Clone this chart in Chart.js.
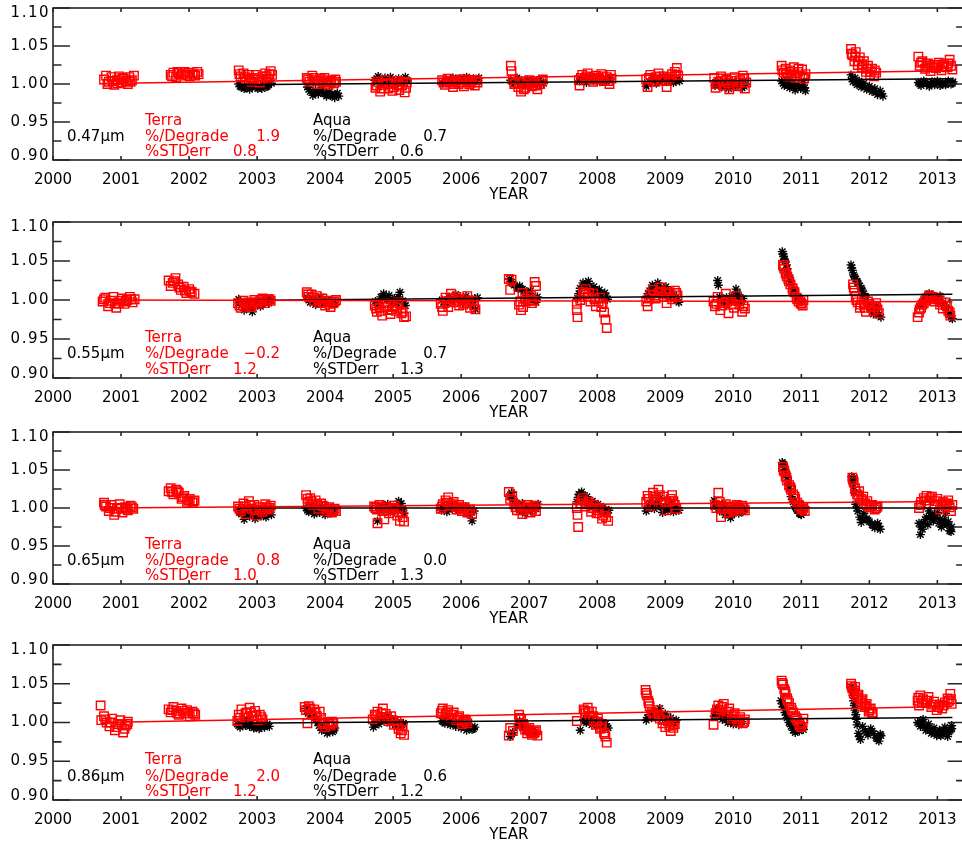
<!DOCTYPE html>
<html>
<head>
<meta charset="utf-8">
<script src="https://cdn.jsdelivr.net/npm/chart.js@4.4.1/dist/chart.umd.min.js"></script>
<style>
  html, body { margin: 0; padding: 0; background: #fff; width: 962px; height: 841px; overflow: hidden; }
  canvas { position: absolute; left: 0; }
</style>
</head>
<body>
<canvas id="c0"></canvas>
<canvas id="c1"></canvas>
<canvas id="c2"></canvas>
<canvas id="c3"></canvas>
<script>
// ---- axis ticks ----
const yearTicks = [2000, 2001, 2002, 2003, 2004, 2005, 2006, 2007, 2008, 2009, 2010, 2011, 2012, 2013];
const yTickValues = [0.90, 0.95, 1.00, 1.05, 1.10];
const yTickLabels = ['0.90', '0.95', '1.00', '1.05', '1.10'];
const xAxisTitle = 'YEAR';

// ---- per-band statistics ----
const bandNames = ['0.47\u03bcm', '0.55\u03bcm', '0.65\u03bcm', '0.86\u03bcm'];
const terraDegrade = ['1.9', '\u22120.2', '0.8', '2.0'];
const terraStdErr = ['0.8', '1.2', '1.0', '1.2'];
const aquaDegrade = ['0.7', '0.7', '0.0', '0.6'];
const aquaStdErr = ['0.6', '1.3', '1.3', '1.2'];

// ---- 0.47 um: normalized ratios [decimal year, ratio] ----
const terra047 = [
  [2000.75,1.006],[2000.78,1.011],[2000.82,1.003],[2000.86,1.009],[2000.90,0.999],[2000.94,1.005],[2000.97,1.010],[2001.00,1.002],[2001.04,1.007],[2001.08,1.004],[2001.12,1.009],[2001.16,1.005],[2001.19,1.011],
  [2000.80,1.000],[2000.88,1.004],[2000.95,1.001],[2001.02,1.008],[2001.10,1.000],[2001.14,1.003],
  [2001.73,1.012],[2001.77,1.015],[2001.81,1.009],[2001.85,1.014],[2001.89,1.011],[2001.93,1.016],[2001.97,1.012],[2002.01,1.010],[2002.05,1.014],[2002.09,1.011],[2002.14,1.013],
  [2001.75,1.010],[2001.83,1.016],[2001.91,1.013],[2001.99,1.015],[2002.07,1.012],[2002.12,1.016],
  [2002.73,1.018],[2002.76,1.010],[2002.80,1.014],[2002.84,1.005],[2002.88,1.012],[2002.92,1.003],[2002.96,1.008],[2003.00,1.006],[2003.04,1.002],[2003.08,1.010],[2003.12,1.014],[2003.16,1.007],[2003.20,1.017],[2003.22,1.012],
  [2002.74,1.013],[2002.82,1.009],[2002.90,1.007],[2002.98,1.012],[2003.06,1.005],[2003.14,1.010],[2003.18,1.013],
  [2003.73,1.008],[2003.77,1.003],[2003.81,1.011],[2003.85,1.005],[2003.89,1.000],[2003.93,1.007],[2003.97,1.002],[2004.01,1.005],[2004.05,0.999],[2004.09,1.004],[2004.13,1.001],[2004.16,1.003],
  [2003.75,1.006],[2003.83,1.008],[2003.91,1.004],[2003.99,1.008],[2004.07,1.002],[2004.15,1.006],
  [2004.74,0.995],[2004.77,1.003],[2004.81,0.990],[2004.85,0.999],[2004.89,1.005],[2004.93,0.994],[2004.97,1.000],[2005.01,0.996],[2005.05,1.004],[2005.09,0.992],[2005.13,0.998],[2005.17,0.989],[2005.20,1.002],
  [2004.76,0.998],[2004.83,0.994],[2004.91,1.001],[2004.99,0.991],[2005.07,0.999],[2005.15,1.003],[2005.19,0.995],
  [2005.72,1.005],[2005.76,0.999],[2005.80,1.007],[2005.84,1.002],[2005.88,0.996],[2005.92,1.004],[2005.96,1.000],[2006.00,1.006],[2006.04,0.997],[2006.08,1.003],[2006.12,1.000],[2006.16,1.005],[2006.20,0.998],[2006.24,1.002],
  [2005.74,1.002],[2005.82,1.004],[2005.90,1.000],[2005.98,1.002],[2006.06,1.006],[2006.14,1.002],[2006.22,1.005],
  [2006.73,1.024],[2006.74,1.017],[2006.76,1.006],[2006.80,1.002],[2006.84,0.996],[2006.88,0.990],[2006.92,0.993],[2006.96,0.999],[2007.00,1.005],[2007.04,0.997],[2007.08,1.003],[2007.12,0.993],[2007.16,1.000],[2007.20,1.006],
  [2006.78,1.000],[2006.86,1.001],[2006.94,0.995],[2007.02,1.001],[2007.10,0.998],[2007.18,1.004],
  [2007.73,1.005],[2007.74,0.998],[2007.78,1.012],[2007.82,1.007],[2007.86,1.014],[2007.90,1.009],[2007.94,1.003],[2007.98,1.011],[2008.02,1.006],[2008.06,1.013],[2008.10,1.004],[2008.14,1.009],[2008.18,1.000],[2008.21,1.007],
  [2007.76,1.008],[2007.84,1.010],[2007.92,1.006],[2008.00,1.008],[2008.08,1.010],[2008.16,1.004],[2008.20,1.012],
  [2008.72,1.006],[2008.74,0.996],[2008.78,1.012],[2008.82,1.003],[2008.86,1.009],[2008.90,1.014],[2008.94,1.005],[2008.98,1.010],[2009.02,0.996],[2009.06,1.007],[2009.10,1.013],[2009.14,1.016],[2009.17,1.021],[2009.19,1.011],
  [2008.76,1.008],[2008.84,1.006],[2008.92,1.010],[2009.00,1.004],[2009.08,1.009],[2009.16,1.012],
  [2009.72,1.008],[2009.74,0.995],[2009.78,1.003],[2009.82,1.010],[2009.86,0.998],[2009.90,1.006],[2009.94,0.993],[2009.98,1.004],[2010.02,1.009],[2010.06,0.997],[2010.10,1.005],[2010.14,1.011],[2010.17,0.994],[2010.19,1.002],
  [2009.76,1.000],[2009.84,1.004],[2009.92,1.001],[2010.00,0.998],[2010.08,1.002],[2010.16,1.007],
  [2010.71,1.024],[2010.74,1.015],[2010.77,1.020],[2010.80,1.010],[2010.83,1.018],[2010.86,1.012],[2010.89,1.022],[2010.92,1.008],[2010.95,1.016],[2010.98,1.011],[2011.01,1.019],[2011.04,1.007],[2011.06,1.013],
  [2010.72,1.018],[2010.78,1.013],[2010.84,1.016],[2010.90,1.014],[2010.96,1.020],[2011.02,1.010],
  [2011.73,1.046],[2011.75,1.038],[2011.78,1.030],[2011.80,1.042],[2011.83,1.025],[2011.86,1.035],[2011.89,1.022],[2011.92,1.030],[2011.95,1.016],[2011.98,1.024],[2012.01,1.012],[2012.04,1.020],[2012.07,1.010],[2012.10,1.015],
  [2011.74,1.040],[2011.79,1.036],[2011.84,1.030],[2011.90,1.026],[2011.96,1.020],[2012.02,1.016],[2012.08,1.018],
  [2012.72,1.036],[2012.74,1.024],[2012.78,1.030],[2012.82,1.020],[2012.86,1.027],[2012.90,1.017],[2012.94,1.025],[2012.98,1.021],[2013.02,1.028],[2013.06,1.018],[2013.10,1.026],[2013.14,1.022],[2013.18,1.032],[2013.22,1.019],
  [2012.76,1.028],[2012.84,1.024],[2012.92,1.022],[2013.00,1.025],[2013.08,1.023],[2013.16,1.027],[2013.20,1.024]
];
const aqua047 = [
  [2002.73,1.000],[2002.77,0.996],[2002.81,0.994],[2002.85,0.998],[2002.89,0.993],[2002.93,0.996],[2002.97,0.999],[2003.01,0.994],[2003.05,0.997],[2003.09,1.000],[2003.13,0.996],[2003.17,0.999],[2003.21,1.001],
  [2002.75,0.997],[2002.83,0.995],[2002.91,0.998],[2002.99,0.996],[2003.07,0.994],[2003.15,0.997],
  [2003.74,0.996],[2003.78,0.990],[2003.82,0.985],[2003.86,0.992],[2003.90,0.987],[2003.94,0.993],[2003.98,0.988],[2004.02,0.984],[2004.06,0.990],[2004.10,0.986],[2004.14,0.982],[2004.18,0.988],[2004.20,0.984],
  [2003.76,0.993],[2003.84,0.988],[2003.92,0.990],[2004.00,0.987],[2004.08,0.985],[2004.16,0.986],
  [2004.73,1.005],[2004.78,1.010],[2004.83,1.000],[2004.88,1.008],[2004.93,1.003],[2004.98,1.006],[2005.03,0.998],[2005.08,1.007],[2005.13,1.002],[2005.18,1.009],[2005.21,1.004],
  [2004.76,1.007],[2004.86,1.004],[2004.96,1.009],[2005.06,1.003],[2005.16,1.006],
  [2005.73,1.001],[2005.78,1.006],[2005.83,1.003],[2005.88,1.008],[2005.93,1.002],[2005.98,1.007],[2006.03,1.004],[2006.08,1.009],[2006.13,1.003],[2006.18,1.007],[2006.23,1.005],[2006.26,1.008],
  [2005.76,1.004],[2005.86,1.005],[2005.96,1.004],[2006.06,1.006],[2006.16,1.005],
  [2006.73,1.005],[2006.77,1.000],[2006.82,1.008],[2006.87,1.002],[2006.92,0.999],[2006.97,1.005],[2007.02,1.001],[2007.07,1.004],[2007.12,0.999],[2007.17,1.003],[2007.21,1.001],
  [2006.75,1.003],[2006.85,1.006],[2006.95,1.002],[2007.05,1.003],[2007.15,1.005],
  [2007.74,1.004],[2007.79,1.008],[2007.84,1.002],[2007.89,1.010],[2007.94,1.005],[2007.99,1.009],[2008.04,1.003],[2008.09,1.007],[2008.14,1.004],[2008.19,1.008],
  [2007.77,1.006],[2007.87,1.004],[2007.97,1.006],[2008.07,1.005],[2008.17,1.006],
  [2008.72,0.997],[2008.77,1.003],[2008.82,1.008],[2008.87,1.001],[2008.92,1.006],[2008.97,1.010],[2009.02,1.003],[2009.07,1.007],[2009.12,1.002],[2009.17,1.006],[2009.21,1.004],
  [2008.75,1.000],[2008.85,1.004],[2008.95,1.005],[2009.05,1.005],[2009.15,1.004],
  [2009.73,0.998],[2009.78,1.004],[2009.83,0.996],[2009.88,1.001],[2009.93,0.994],[2009.98,1.003],[2010.03,0.997],[2010.08,1.002],[2010.13,0.995],[2010.18,1.000],
  [2009.76,1.001],[2009.86,0.999],[2009.96,0.998],[2010.06,0.999],[2010.16,0.997],
  [2010.71,1.004],[2010.75,0.998],[2010.79,1.006],[2010.83,0.995],[2010.87,1.001],[2010.91,0.992],[2010.95,0.999],[2010.99,0.994],[2011.03,1.002],[2011.06,0.991],
  [2010.73,1.001],[2010.81,0.998],[2010.89,0.996],[2010.97,0.997],[2011.05,0.995],
  [2011.73,1.012],[2011.76,1.003],[2011.79,1.008],[2011.82,0.999],[2011.85,1.004],[2011.88,0.996],[2011.92,1.001],[2011.96,0.993],[2012.00,0.997],[2012.04,0.990],[2012.08,0.994],[2012.12,0.986],[2012.16,0.991],[2012.20,0.984],
  [2011.75,1.007],[2011.81,1.002],[2011.87,1.000],[2011.94,0.996],[2012.02,0.993],[2012.10,0.989],[2012.18,0.987],
  [2012.72,1.002],[2012.76,0.998],[2012.80,1.004],[2012.84,1.000],[2012.88,0.997],[2012.92,1.003],[2012.96,0.999],[2013.00,1.004],[2013.04,0.998],[2013.08,1.002],[2013.12,0.999],[2013.16,1.004],[2013.20,1.000],[2013.23,1.003],
  [2012.74,1.000],[2012.82,1.002],[2012.90,1.000],[2012.98,1.001],[2013.06,1.000],[2013.14,1.001],[2013.22,1.001]
];

// ---- 0.55 um ----
const terra055 = [
  [2000.73,0.998],[2000.77,1.003],[2000.81,0.992],[2000.85,0.999],[2000.89,1.004],[2000.93,0.990],[2000.97,0.996],[2001.01,1.002],[2001.05,0.995],[2001.09,1.000],[2001.13,1.004],[2001.17,0.997],[2001.20,1.001],
  [2000.75,1.001],[2000.83,0.996],[2000.91,0.995],[2000.99,0.999],[2001.07,0.998],[2001.15,1.001],
  [2001.70,1.025],[2001.73,1.018],[2001.76,1.022],[2001.80,1.028],[2001.84,1.020],[2001.88,1.013],[2001.92,1.017],[2001.96,1.009],[2002.00,1.014],[2002.04,1.010],[2002.08,1.008],
  [2001.78,1.024],[2001.86,1.016],[2001.94,1.012],[2002.02,1.011],
  [2002.72,0.996],[2002.76,0.990],[2002.80,0.999],[2002.84,0.993],[2002.88,0.997],[2002.92,0.991],[2002.96,1.000],[2003.00,0.995],[2003.04,0.998],[2003.08,1.002],[2003.12,0.996],[2003.16,1.001],[2003.20,0.999],
  [2002.74,0.993],[2002.82,0.996],[2002.90,0.994],[2002.98,0.997],[2003.06,1.000],[2003.14,0.999],[2003.18,1.001],
  [2003.73,1.010],[2003.76,1.004],[2003.80,1.007],[2003.84,0.999],[2003.88,1.005],[2003.92,0.996],[2003.96,1.002],[2004.00,0.993],[2004.04,0.999],[2004.08,0.991],[2004.12,0.996],[2004.16,1.000],
  [2003.75,1.007],[2003.82,1.003],[2003.90,1.001],[2003.98,0.997],[2004.06,0.995],[2004.14,0.998],
  [2004.73,0.993],[2004.76,0.985],[2004.80,0.990],[2004.84,0.980],[2004.88,0.996],[2004.92,0.987],[2004.96,0.982],[2005.00,0.992],[2005.04,0.986],[2005.08,0.997],[2005.12,0.983],[2005.16,0.978],[2005.19,0.979],
  [2004.75,0.989],[2004.82,0.986],[2004.90,0.991],[2004.98,0.988],[2005.06,0.990],[2005.14,0.985],
  [2005.70,0.995],[2005.73,0.986],[2005.77,1.003],[2005.81,0.991],[2005.85,1.008],[2005.89,0.997],[2005.93,1.004],[2005.97,0.993],[2006.01,1.001],[2006.05,0.996],[2006.09,1.005],[2006.13,0.990],[2006.17,0.999],[2006.21,0.988],
  [2005.72,0.991],[2005.79,0.998],[2005.87,1.002],[2005.95,0.999],[2006.03,0.994],[2006.11,0.998],[2006.19,0.993],
  [2006.70,1.027],[2006.74,1.026],[2006.72,1.013],[2006.85,0.994],[2006.88,0.987],[2006.91,0.991],[2006.90,1.009],[2006.94,1.002],[2006.98,1.005],[2007.01,1.000],[2007.04,0.996],[2007.08,1.023],[2007.10,1.018],
  [2006.87,0.998],[2006.95,0.998],[2007.03,1.005],[2007.07,0.999],
  [2007.70,0.995],[2007.70,0.987],[2007.71,0.978],[2007.75,1.000],[2007.79,1.010],[2007.83,1.014],[2007.86,1.004],[2007.90,0.998],[2007.94,1.008],[2007.98,0.992],[2008.02,0.998],[2008.06,0.991],[2008.10,0.984],[2008.12,0.975],[2008.14,0.964],
  [2007.81,1.007],[2007.88,1.009],[2007.96,1.001],[2008.04,1.003],[2008.08,0.996],
  [2008.72,0.998],[2008.74,0.992],[2008.78,1.007],[2008.82,1.013],[2008.86,1.002],[2008.90,1.009],[2008.94,1.016],[2008.98,1.004],[2009.02,0.996],[2009.06,1.010],[2009.10,1.001],[2009.14,1.012],[2009.18,1.006],
  [2008.76,1.002],[2008.84,1.006],[2008.92,1.011],[2009.00,1.008],[2009.08,1.004],[2009.16,1.009],
  [2009.71,0.998],[2009.73,0.992],[2009.77,1.004],[2009.81,0.987],[2009.85,0.996],[2009.89,1.008],[2009.93,0.983],[2009.97,0.999],[2010.01,0.990],[2010.05,1.005],[2010.09,0.994],[2010.13,0.985],[2010.17,0.989],
  [2009.75,0.995],[2009.83,0.993],[2009.91,0.998],[2009.99,0.995],[2010.07,0.999],[2010.15,0.992],
  [2010.73,1.045],[2010.75,1.040],[2010.77,1.035],[2010.79,1.030],[2010.81,1.027],[2010.84,1.020],[2010.87,1.015],[2010.90,1.010],[2010.93,1.003],[2010.96,0.998],[2010.99,0.996],[2011.02,0.993],[2011.03,1.000],
  [2010.74,1.043],[2010.78,1.033],[2010.82,1.024],[2010.88,1.012],[2010.94,1.001],[2011.00,0.995],
  [2011.76,1.020],[2011.78,1.012],[2011.80,1.004],[2011.83,0.997],[2011.86,0.990],[2011.89,1.001],[2011.92,0.994],[2011.95,0.985],[2011.98,0.998],[2012.02,0.992],[2012.06,0.986],[2012.10,0.996],[2012.14,0.983],
  [2011.77,1.016],[2011.81,1.000],[2011.87,0.994],[2011.93,0.990],[2012.00,0.995],[2012.08,0.991],[2012.12,0.988],
  [2012.71,0.978],[2012.73,0.984],[2012.76,0.990],[2012.80,0.996],[2012.84,1.002],[2012.88,1.006],[2012.92,1.004],[2012.96,0.998],[2013.00,1.003],[2013.04,0.994],[2013.08,0.989],[2013.12,0.997],[2013.16,0.986],[2013.19,0.980],
  [2012.74,0.988],[2012.78,0.994],[2012.82,0.999],[2012.90,1.003],[2012.98,1.001],[2013.06,0.997],[2013.14,0.992],[2013.18,0.984]
];
const aqua055 = [
  [2002.73,1.001],[2002.77,0.993],[2002.81,0.987],[2002.85,0.996],[2002.89,0.990],[2002.93,0.985],[2002.97,0.994],[2003.01,0.999],[2003.05,0.992],[2003.09,0.997],[2003.13,1.002],[2003.17,0.996],[2003.21,1.000],
  [2002.75,0.997],[2002.83,0.991],[2002.91,0.993],[2002.99,0.996],[2003.07,0.995],[2003.15,0.999],
  [2003.74,1.003],[2003.78,0.997],[2003.82,1.001],[2003.86,0.994],[2003.90,0.999],[2003.94,1.004],[2003.98,0.996],[2004.02,1.000],[2004.06,0.995],[2004.10,0.998],[2004.14,0.994],
  [2003.76,1.000],[2003.84,0.998],[2003.92,1.001],[2004.00,0.997],[2004.08,0.996],
  [2004.74,0.998],[2004.78,0.993],[2004.82,1.004],[2004.86,1.008],[2004.90,1.000],[2004.94,1.006],[2004.98,0.996],[2005.02,1.002],[2005.06,0.995],[2005.10,1.010],[2005.14,0.999],[2005.18,0.993],
  [2004.76,0.996],[2004.84,1.002],[2004.92,1.003],[2005.00,0.998],[2005.08,1.004],[2005.16,0.996],
  [2005.72,1.000],[2005.77,0.994],[2005.82,1.004],[2005.87,0.998],[2005.92,1.007],[2005.97,1.002],[2006.02,0.996],[2006.07,1.005],[2006.12,1.000],[2006.17,0.993],[2006.21,0.988],[2006.24,1.003],
  [2005.74,0.997],[2005.84,1.001],[2005.94,1.004],[2006.04,1.000],[2006.14,0.997],[2006.20,1.002],
  [2006.71,1.027],[2006.74,1.023],[2006.78,1.019],[2006.82,1.016],[2006.86,1.018],[2006.90,1.014],[2006.94,1.010],[2006.98,1.006],[2007.02,1.012],[2007.06,1.001],[2007.10,0.997],[2007.12,1.004],
  [2006.76,1.021],[2006.84,1.015],[2006.92,1.012],[2007.00,1.008],[2007.08,1.000],
  [2007.71,1.002],[2007.75,1.015],[2007.79,1.022],[2007.83,1.018],[2007.87,1.024],[2007.91,1.012],[2007.95,1.017],[2007.99,1.008],[2008.03,1.013],[2008.07,1.004],[2008.11,1.009],[2008.15,1.001],
  [2007.73,1.008],[2007.81,1.020],[2007.89,1.018],[2007.97,1.013],[2008.05,1.008],[2008.13,1.005],
  [2008.73,1.005],[2008.77,1.012],[2008.81,1.019],[2008.85,1.010],[2008.89,1.022],[2008.93,1.014],[2008.97,1.008],[2009.01,1.017],[2009.05,1.003],[2009.09,1.011],[2009.13,1.006],[2009.17,1.000],[2009.20,0.997],
  [2008.75,1.008],[2008.83,1.015],[2008.91,1.018],[2008.99,1.012],[2009.07,1.007],[2009.15,1.003],
  [2009.77,1.025],[2009.78,1.019],[2009.82,1.001],[2009.86,0.996],[2009.90,1.003],[2009.94,0.998],[2009.98,1.005],[2010.02,1.000],[2010.04,1.014],[2010.06,1.009],[2010.10,0.997],[2010.14,1.002],
  [2009.80,1.004],[2009.88,1.000],[2009.96,1.002],[2010.08,1.004],[2010.12,0.999],
  [2010.72,1.062],[2010.74,1.056],[2010.76,1.050],[2010.78,1.045],[2010.80,1.035],[2010.83,1.028],[2010.86,1.020],[2010.89,1.014],[2010.92,1.008],[2010.95,1.004],[2010.98,1.001],[2011.01,0.999],
  [2010.73,1.059],[2010.75,1.052],[2010.79,1.040],[2010.84,1.024],[2010.90,1.011],[2010.96,1.003],
  [2011.73,1.045],[2011.75,1.038],[2011.77,1.032],[2011.80,1.027],[2011.83,1.022],[2011.86,1.018],[2011.89,1.013],[2011.92,1.008],[2011.95,1.003],[2011.98,0.995],[2012.02,0.988],[2012.06,0.982],[2012.10,0.992],[2012.14,0.980],[2012.17,0.978],
  [2011.74,1.041],[2011.78,1.030],[2011.82,1.024],[2011.88,1.015],[2011.94,1.005],[2012.00,0.992],[2012.08,0.986],[2012.12,0.984],
  [2012.74,0.992],[2012.79,0.998],[2012.84,1.004],[2012.88,1.008],[2012.92,1.006],[2012.96,1.002],[2013.00,0.999],[2013.04,1.005],[2013.08,0.995],[2013.12,0.990],[2013.16,0.984],[2013.20,0.978],[2013.22,0.976],
  [2012.76,0.995],[2012.82,1.002],[2012.86,1.006],[2012.94,1.005],[2013.02,1.001],[2013.10,0.992],[2013.18,0.981]
];

// ---- 0.65 um ----
const terra065 = [
  [2000.75,1.007],[2000.78,1.002],[2000.82,0.996],[2000.86,1.004],[2000.90,0.991],[2000.94,0.999],[2000.98,1.005],[2001.02,0.994],[2001.06,1.001],[2001.10,0.997],[2001.14,1.003],[2001.18,0.999],
  [2000.76,1.004],[2000.84,1.000],[2000.92,0.995],[2001.00,1.000],[2001.08,0.999],[2001.16,1.001],
  [2001.70,1.022],[2001.73,1.026],[2001.77,1.018],[2001.81,1.024],[2001.85,1.020],[2001.89,1.012],[2001.93,1.016],[2001.97,1.008],[2002.01,1.012],[2002.05,1.007],[2002.08,1.010],
  [2001.75,1.021],[2001.83,1.022],[2001.91,1.014],[2001.99,1.010],[2002.07,1.009],
  [2002.72,1.002],[2002.76,0.996],[2002.80,1.006],[2002.84,0.992],[2002.88,1.009],[2002.92,0.999],[2002.96,1.004],[2003.00,0.990],[2003.04,1.001],[2003.08,0.995],[2003.12,1.005],[2003.16,0.998],[2003.20,1.003],
  [2002.74,0.999],[2002.82,1.002],[2002.90,1.004],[2002.98,0.997],[2003.06,0.998],[2003.14,1.001],[2003.18,1.000],
  [2003.72,1.017],[2003.75,1.008],[2003.78,1.013],[2003.82,1.004],[2003.86,1.010],[2003.90,0.999],[2003.94,1.006],[2003.98,1.002],[2004.02,0.996],[2004.06,1.001],[2004.10,0.994],[2004.14,0.999],[2004.16,0.996],
  [2003.74,1.012],[2003.80,1.009],[2003.88,1.005],[2003.96,1.003],[2004.04,0.999],[2004.12,0.997],
  [2004.72,1.002],[2004.76,0.998],[2004.77,0.980],[2004.80,1.004],[2004.84,0.996],[2004.87,0.985],[2004.90,1.001],[2004.94,0.993],[2004.98,0.999],[2005.02,1.003],[2005.06,0.990],[2005.10,0.983],[2005.13,0.994],[2005.16,0.982],
  [2004.74,1.000],[2004.82,1.001],[2004.92,0.997],[2005.00,1.000],[2005.08,0.995],[2005.14,0.988],
  [2005.70,0.999],[2005.73,1.005],[2005.77,1.010],[2005.81,1.014],[2005.85,1.003],[2005.89,1.008],[2005.93,0.998],[2005.97,1.004],[2006.01,0.996],[2006.05,1.001],[2006.09,0.994],[2006.13,0.998],[2006.16,0.992],
  [2005.72,1.002],[2005.79,1.007],[2005.87,1.005],[2005.95,1.001],[2006.03,0.999],[2006.11,0.997],
  [2006.70,1.021],[2006.72,1.012],[2006.75,1.016],[2006.78,1.005],[2006.82,0.997],[2006.86,1.003],[2006.90,0.992],[2006.94,0.999],[2006.98,1.004],[2007.02,0.994],[2007.06,1.001],[2007.10,0.996],
  [2006.80,1.001],[2006.88,0.997],[2006.96,1.001],[2007.04,0.998],[2007.08,1.003],
  [2007.70,1.000],[2007.71,0.991],[2007.72,0.975],[2007.75,1.006],[2007.79,1.013],[2007.83,1.002],[2007.87,1.008],[2007.91,0.995],[2007.95,1.004],[2007.99,0.993],[2008.03,1.000],[2008.07,0.986],[2008.11,0.995],[2008.16,0.983],
  [2007.77,1.010],[2007.85,1.005],[2007.93,1.000],[2008.01,0.997],[2008.09,0.990],[2008.13,0.988],
  [2008.72,1.008],[2008.74,1.016],[2008.78,1.003],[2008.82,1.020],[2008.86,1.011],[2008.90,1.024],[2008.94,1.006],[2008.98,1.015],[2009.02,0.997],[2009.06,1.009],[2009.10,1.017],[2009.14,1.004],[2009.16,0.999],
  [2008.76,1.012],[2008.84,1.015],[2008.92,1.017],[2009.00,1.008],[2009.08,1.012],[2009.12,1.009],
  [2009.73,1.004],[2009.78,1.020],[2009.80,1.008],[2009.82,0.988],[2009.85,0.999],[2009.89,1.005],[2009.93,0.994],[2009.97,1.002],[2010.01,0.996],[2010.05,1.004],[2010.09,0.999],[2010.13,1.003],[2010.17,0.997],
  [2009.75,1.000],[2009.83,1.002],[2009.91,1.000],[2009.99,0.998],[2010.07,1.001],[2010.15,1.000],
  [2010.73,1.054],[2010.75,1.048],[2010.77,1.042],[2010.79,1.036],[2010.82,1.030],[2010.85,1.024],[2010.88,1.018],[2010.91,1.012],[2010.94,1.007],[2010.97,1.003],[2011.00,0.998],[2011.03,1.001],[2011.05,0.996],
  [2010.74,1.050],[2010.78,1.040],[2010.84,1.027],[2010.90,1.015],[2010.96,1.004],[2011.02,0.999],
  [2011.75,1.040],[2011.77,1.034],[2011.79,1.026],[2011.82,1.018],[2011.85,1.022],[2011.88,1.012],[2011.91,1.015],[2011.94,1.006],[2011.97,1.009],[2012.00,1.001],[2012.04,1.004],[2012.08,0.998],[2012.12,1.002],
  [2011.76,1.037],[2011.80,1.022],[2011.84,1.016],[2011.90,1.010],[2011.96,1.004],[2012.02,1.003],[2012.10,1.000],
  [2012.73,1.000],[2012.76,1.008],[2012.80,1.013],[2012.84,1.016],[2012.88,1.010],[2012.92,1.015],[2012.96,1.005],[2013.00,1.012],[2013.04,0.998],[2013.08,1.008],[2013.12,1.002],[2013.16,1.010],[2013.20,0.996],[2013.22,1.004],
  [2012.75,1.004],[2012.82,1.010],[2012.90,1.013],[2012.98,1.009],[2013.06,1.004],[2013.14,1.006],[2013.18,1.001]
];
const aqua065 = [
  [2002.73,0.998],[2002.77,0.992],[2002.81,0.985],[2002.85,0.995],[2002.89,0.989],[2002.93,0.999],[2002.97,0.986],[2003.01,0.993],[2003.05,0.990],[2003.09,0.996],[2003.13,0.988],[2003.17,0.994],[2003.21,0.991],
  [2002.75,0.995],[2002.83,0.990],[2002.91,0.993],[2002.99,0.990],[2003.07,0.993],[2003.15,0.992],
  [2003.72,1.000],[2003.76,0.995],[2003.80,1.003],[2003.84,0.992],[2003.88,0.998],[2003.92,0.994],[2003.96,1.001],[2004.00,0.991],[2004.04,0.996],[2004.08,0.993],[2004.12,0.998],
  [2003.74,0.997],[2003.82,0.996],[2003.90,0.996],[2003.98,0.995],[2004.06,0.994],[2004.10,0.996],
  [2004.77,0.983],[2004.80,0.997],[2004.84,1.003],[2004.88,0.999],[2004.92,1.005],[2004.96,0.995],[2005.00,1.001],[2005.04,0.997],[2005.08,1.009],[2005.12,1.006],[2005.16,0.993],
  [2004.82,1.000],[2004.90,1.002],[2004.98,0.999],[2005.06,1.002],[2005.14,0.998],
  [2005.71,0.997],[2005.75,1.002],[2005.79,0.995],[2005.83,1.004],[2005.87,0.999],[2005.91,1.003],[2005.95,0.996],[2005.99,1.001],[2006.03,0.997],[2006.07,1.002],[2006.11,0.994],[2006.16,0.983],[2006.19,0.996],
  [2005.73,1.000],[2005.81,0.999],[2005.89,1.001],[2005.97,0.999],[2006.05,0.999],[2006.13,0.991],
  [2006.71,1.015],[2006.74,1.020],[2006.78,1.009],[2006.82,1.004],[2006.86,0.998],[2006.90,1.006],[2006.94,0.993],[2006.98,1.001],[2007.02,0.996],[2007.06,1.003],[2007.10,0.999],[2007.13,1.005],
  [2006.76,1.012],[2006.84,1.001],[2006.92,0.997],[2007.00,0.998],[2007.08,1.001],
  [2007.70,1.008],[2007.73,1.018],[2007.77,1.021],[2007.81,1.010],[2007.85,1.015],[2007.89,1.003],[2007.93,1.009],[2007.97,0.998],[2008.01,1.005],[2008.05,0.995],[2008.09,1.001],[2008.13,0.993],[2008.17,0.997],
  [2007.72,1.014],[2007.79,1.016],[2007.87,1.008],[2007.95,1.003],[2008.03,1.000],[2008.11,0.996],
  [2008.72,0.996],[2008.76,1.003],[2008.80,1.010],[2008.84,0.999],[2008.88,1.006],[2008.92,1.013],[2008.96,0.994],[2009.00,1.002],[2009.04,0.997],[2009.08,1.008],[2009.12,0.995],[2009.16,1.001],[2009.20,0.997],
  [2008.74,1.000],[2008.82,1.005],[2008.90,1.003],[2008.98,0.998],[2009.06,1.001],[2009.14,0.998],
  [2009.72,1.010],[2009.76,1.002],[2009.80,0.996],[2009.84,1.005],[2009.88,0.991],[2009.92,0.999],[2009.96,0.987],[2010.00,0.996],[2010.04,1.003],[2010.08,0.993],[2010.12,1.000],[2010.16,0.997],
  [2009.74,1.006],[2009.82,1.000],[2009.90,0.995],[2009.98,0.992],[2010.06,0.998],[2010.14,0.995],
  [2010.72,1.060],[2010.74,1.057],[2010.76,1.050],[2010.79,1.040],[2010.82,1.025],[2010.85,1.015],[2010.88,1.008],[2010.91,1.002],[2010.94,0.997],[2010.97,0.993],[2011.00,0.991],[2011.03,0.995],
  [2010.73,1.058],[2010.75,1.054],[2010.78,1.045],[2010.81,1.032],[2010.87,1.011],[2010.93,0.999],[2010.99,0.992],
  [2011.74,1.041],[2011.76,1.036],[2011.78,1.020],[2011.80,1.005],[2011.83,0.996],[2011.86,0.988],[2011.88,0.981],[2011.92,0.993],[2011.96,0.986],[2012.00,0.982],[2012.04,0.978],[2012.08,0.974],[2012.12,0.980],[2012.16,0.972],
  [2011.75,1.038],[2011.77,1.028],[2011.82,1.000],[2011.90,0.985],[2011.98,0.984],[2012.06,0.977],[2012.14,0.976],
  [2012.73,0.980],[2012.75,0.965],[2012.78,0.972],[2012.82,0.985],[2012.86,0.978],[2012.90,0.990],[2012.94,0.983],[2012.98,0.988],[2013.02,0.980],[2013.06,0.975],[2013.10,0.984],[2013.14,0.978],[2013.18,0.970],[2013.21,0.975],[2012.88,0.996],[2013.00,0.994],[2013.12,0.993],
  [2012.76,0.975],[2012.80,0.980],[2012.84,0.988],[2012.92,0.986],[2012.96,0.991],[2013.04,0.985],[2013.08,0.979],[2013.16,0.982],[2013.20,0.969]
];

// ---- 0.86 um ----
const terra086 = [
  [2000.70,1.022],[2000.71,1.003],[2000.75,1.008],[2000.79,1.000],[2000.83,0.995],[2000.87,1.005],[2000.91,0.990],[2000.95,0.998],[2000.99,1.003],[2001.03,0.987],[2001.07,0.996],[2001.10,1.001],
  [2000.77,1.004],[2000.85,1.000],[2000.93,0.994],[2001.01,0.997],[2001.05,0.992],[2001.09,0.998],
  [2001.70,1.017],[2001.73,1.013],[2001.77,1.020],[2001.81,1.015],[2001.85,1.010],[2001.89,1.018],[2001.93,1.012],[2001.97,1.016],[2002.01,1.008],[2002.05,1.014],[2002.09,1.010],
  [2001.75,1.016],[2001.83,1.012],[2001.91,1.015],[2001.99,1.012],[2002.07,1.012],
  [2002.71,1.002],[2002.73,1.010],[2002.77,1.017],[2002.81,1.006],[2002.85,1.013],[2002.89,1.019],[2002.93,1.008],[2002.97,1.015],[2003.01,1.003],[2003.04,1.010],[2003.08,1.004],
  [2002.75,1.006],[2002.83,1.012],[2002.91,1.013],[2002.99,1.009],[2003.06,1.007],
  [2003.70,1.020],[2003.72,1.016],[2003.74,0.999],[2003.76,1.021],[2003.80,1.012],[2003.84,1.017],[2003.88,1.008],[2003.92,1.014],[2003.96,0.998],[2004.00,0.994],[2004.04,1.000],[2004.08,0.996],[2004.12,0.999],
  [2003.78,1.018],[2003.86,1.013],[2003.94,1.006],[2003.98,1.000],[2004.06,0.998],[2004.10,1.001],
  [2004.70,1.004],[2004.73,1.010],[2004.77,1.014],[2004.81,1.006],[2004.85,1.018],[2004.89,1.011],[2004.93,1.002],[2004.97,1.008],[2005.01,0.997],[2005.05,1.002],[2005.08,0.992],[2005.11,0.986],[2005.14,0.995],[2005.16,0.984],
  [2004.75,1.008],[2004.83,1.012],[2004.91,1.007],[2004.99,1.003],[2005.07,0.998],[2005.13,0.990],
  [2005.70,1.012],[2005.73,1.018],[2005.77,1.010],[2005.81,1.016],[2005.85,1.006],[2005.89,1.013],[2005.93,1.003],[2005.97,1.008],[2006.01,0.998],[2006.05,1.004],[2006.09,0.999],
  [2005.72,1.015],[2005.79,1.013],[2005.87,1.010],[2005.95,1.006],[2006.03,1.001],[2006.07,1.002],
  [2006.70,0.983],[2006.72,0.993],[2006.76,0.989],[2006.85,1.010],[2006.88,1.004],[2006.91,0.998],[2006.94,0.991],[2006.97,0.986],[2007.00,0.993],[2007.04,0.984],[2007.08,0.988],[2007.12,0.983],
  [2006.86,1.006],[2006.92,0.995],[2006.98,0.990],[2007.02,0.988],[2007.06,0.986],[2007.10,0.990],
  [2007.70,1.002],[2007.80,1.017],[2007.83,1.012],[2007.86,1.019],[2007.89,1.008],[2007.92,1.014],[2007.95,1.002],[2007.98,0.997],[2008.01,1.005],[2008.04,0.992],[2008.07,0.998],[2008.10,0.987],[2008.12,0.982],[2008.14,0.974],
  [2007.82,1.015],[2007.88,1.014],[2007.94,1.008],[2008.00,1.001],[2008.06,0.994],[2008.11,0.985],
  [2008.71,1.042],[2008.73,1.035],[2008.75,1.028],[2008.77,1.021],[2008.80,1.014],[2008.84,1.008],[2008.88,1.016],[2008.92,1.005],[2008.96,0.999],[2009.00,0.994],[2009.04,1.002],[2009.08,0.989],[2009.11,0.996],[2009.14,0.998],
  [2008.72,1.038],[2008.76,1.025],[2008.82,1.012],[2008.90,1.010],[2008.98,1.003],[2009.06,0.996],[2009.12,0.993],
  [2009.71,0.997],[2009.74,1.012],[2009.78,1.022],[2009.82,1.016],[2009.86,1.024],[2009.90,1.010],[2009.94,1.018],[2009.98,1.005],[2010.02,1.012],[2010.06,1.001],[2010.10,1.007],[2010.14,0.999],[2010.17,1.004],
  [2009.76,1.017],[2009.84,1.020],[2009.92,1.014],[2010.00,1.008],[2010.08,1.004],[2010.16,1.001],
  [2010.71,1.054],[2010.73,1.049],[2010.75,1.043],[2010.77,1.037],[2010.79,1.031],[2010.82,1.025],[2010.85,1.019],[2010.88,1.013],[2010.91,1.008],[2010.94,1.003],[2010.97,0.998],[2011.00,0.994],[2011.03,1.005],
  [2010.72,1.051],[2010.76,1.040],[2010.80,1.028],[2010.86,1.016],[2010.92,1.006],[2010.98,0.996],[2011.02,1.000],
  [2011.73,1.050],[2011.75,1.044],[2011.77,1.038],[2011.79,1.046],[2011.81,1.032],[2011.84,1.036],[2011.87,1.026],[2011.90,1.030],[2011.93,1.020],[2011.96,1.024],[2011.99,1.014],[2012.02,1.018],[2012.05,1.011],
  [2011.74,1.047],[2011.78,1.041],[2011.82,1.034],[2011.88,1.028],[2011.94,1.022],[2012.00,1.016],[2012.04,1.013],
  [2012.71,1.028],[2012.73,1.022],[2012.75,1.035],[2012.79,1.030],[2012.83,1.025],[2012.87,1.033],[2012.91,1.020],[2012.95,1.027],[2012.99,1.016],[2013.03,1.023],[2013.07,1.018],[2013.11,1.026],[2013.15,1.031],[2013.19,1.037],[2013.21,1.024],
  [2012.72,1.032],[2012.77,1.026],[2012.85,1.028],[2012.93,1.023],[2013.01,1.020],[2013.09,1.022],[2013.17,1.028],[2013.20,1.030]
];
const aqua086 = [
  [2002.71,0.998],[2002.75,0.994],[2002.79,1.001],[2002.83,0.996],[2002.87,1.003],[2002.91,0.999],[2002.95,0.993],[2002.99,0.997],[2003.03,0.992],[2003.07,0.996],[2003.11,0.994],[2003.15,0.998],[2003.18,0.995],
  [2002.73,0.996],[2002.81,0.998],[2002.89,0.995],[2002.97,0.994],[2003.05,0.994],[2003.13,0.996],
  [2003.72,1.018],[2003.75,1.012],[2003.79,1.015],[2003.83,1.008],[2003.87,1.004],[2003.91,0.996],[2003.95,0.990],[2003.99,0.994],[2004.03,0.986],[2004.07,0.991],[2004.11,0.988],[2004.14,0.993],
  [2003.74,1.015],[2003.81,1.011],[2003.89,1.000],[2003.97,0.992],[2004.05,0.989],[2004.13,0.990],
  [2004.71,0.994],[2004.75,1.001],[2004.79,0.998],[2004.83,1.006],[2004.87,1.002],[2004.91,1.008],[2004.95,0.999],[2004.99,1.004],[2005.03,0.997],[2005.07,1.001],[2005.11,0.995],[2005.15,0.999],
  [2004.73,0.997],[2004.81,1.002],[2004.89,1.004],[2004.97,1.002],[2005.05,0.999],[2005.13,0.997],
  [2005.72,1.002],[2005.76,0.999],[2005.80,1.004],[2005.84,0.997],[2005.88,1.001],[2005.92,0.995],[2005.96,1.000],[2006.00,0.993],[2006.04,0.997],[2006.08,0.990],[2006.12,0.995],[2006.16,0.991],[2006.20,0.994],
  [2005.74,1.001],[2005.82,1.000],[2005.90,0.998],[2005.98,0.996],[2006.06,0.994],[2006.14,0.993],[2006.18,0.992],
  [2006.72,0.982],[2006.76,0.987],[2006.82,0.995],[2006.86,1.002],[2006.90,0.996],[2006.94,0.990],[2006.98,0.993],[2007.02,0.986],[2007.06,0.990],[2007.10,0.985],
  [2006.74,0.985],[2006.84,0.998],[2006.92,0.993],[2007.00,0.989],[2007.08,0.987],
  [2007.75,0.990],[2007.80,1.004],[2007.84,1.000],[2007.88,1.006],[2007.92,0.997],[2007.96,1.002],[2008.00,0.996],[2008.04,1.001],[2008.08,0.994],[2008.12,0.998],[2008.16,0.993],
  [2007.82,1.002],[2007.90,1.001],[2007.98,0.999],[2008.06,0.997],[2008.14,0.995],
  [2008.72,1.003],[2008.76,1.010],[2008.80,1.006],[2008.84,1.014],[2008.88,1.009],[2008.92,1.018],[2008.96,1.005],[2009.00,1.011],[2009.04,1.001],[2009.08,1.006],[2009.12,0.999],[2009.16,1.003],
  [2008.74,1.006],[2008.82,1.010],[2008.90,1.013],[2008.98,1.008],[2009.06,1.003],[2009.14,1.001],
  [2009.72,1.008],[2009.76,1.018],[2009.80,1.012],[2009.84,1.004],[2009.88,1.010],[2009.92,1.000],[2009.96,1.006],[2010.00,0.998],[2010.04,1.003],[2010.08,0.997],[2010.12,1.001],
  [2009.74,1.013],[2009.82,1.008],[2009.90,1.004],[2009.98,1.002],[2010.06,1.000],[2010.10,0.999],
  [2010.70,1.028],[2010.73,1.020],[2010.76,1.013],[2010.79,1.006],[2010.82,1.000],[2010.85,0.995],[2010.88,0.990],[2010.91,0.987],[2010.94,0.993],[2010.97,0.989],[2011.00,0.996],[2011.03,0.991],
  [2010.72,1.024],[2010.78,1.010],[2010.84,0.998],[2010.90,0.990],[2010.96,0.991],[2011.02,0.993],
  [2011.74,1.046],[2011.76,1.035],[2011.78,1.022],[2011.80,1.010],[2011.82,0.997],[2011.84,0.986],[2011.87,0.978],[2011.90,0.995],[2011.94,0.989],[2011.98,0.984],[2012.02,0.992],[2012.06,0.986],[2012.10,0.980],[2012.14,0.976],[2012.17,0.983],
  [2011.75,1.040],[2011.77,1.028],[2011.79,1.016],[2011.81,1.004],[2011.85,0.982],[2011.96,0.987],[2012.04,0.989],[2012.12,0.979],[2012.16,0.985],
  [2012.71,1.000],[2012.75,0.995],[2012.79,1.004],[2012.83,0.990],[2012.87,0.998],[2012.91,0.986],[2012.95,0.993],[2012.99,0.983],[2013.03,0.990],[2013.07,0.985],[2013.11,0.994],[2013.15,0.982],[2013.19,0.990],[2013.21,0.996],
  [2012.73,0.998],[2012.77,1.002],[2012.81,0.996],[2012.85,0.993],[2012.89,0.990],[2012.93,0.989],[2012.97,0.986],[2013.01,0.987],[2013.05,0.983],[2013.09,0.990],[2013.13,0.986],[2013.17,0.988],[2013.21,0.992]
];

// ---- linear fits [decimal year, ratio] at both ends ----
const terraTrend047 = [[2000.73, 1.0005], [2013.23, 1.0175]];
const aquaTrend047  = [[2002.71, 0.9990], [2013.23, 1.0068]];
const terraTrend055 = [[2000.73, 1.0000], [2013.22, 0.9978]];
const aquaTrend055  = [[2002.71, 0.9995], [2013.22, 1.0075]];
const terraTrend065 = [[2000.73, 1.0000], [2013.22, 1.0086]];
const aquaTrend065  = [[2002.71, 1.0000], [2013.22, 1.0000]];
const terraTrend086 = [[2000.73, 1.0000], [2013.22, 1.0205]];
const aquaTrend086  = [[2002.71, 0.9990], [2013.22, 1.0065]];

const terraSeries = [terra047, terra055, terra065, terra086];
const aquaSeries = [aqua047, aqua055, aqua065, aqua086];
const terraTrends = [terraTrend047, terraTrend055, terraTrend065, terraTrend086];
const aquaTrends = [aquaTrend047, aquaTrend055, aquaTrend065, aquaTrend086];

// ---- layout ----
const FONT = '"DejaVu Sans", "Liberation Sans", sans-serif';
const RED = '#ff0000';
const AXIS = '#262626';
const panels = [
  { top: 8, bottom: 160 },
  { top: 222, bottom: 378 },
  { top: 432, bottom: 584 },
  { top: 645, bottom: 800 }
];
const PAD_TOP = 10, AXIS_H = 45, CANVAS_W = 972, PLOT_LEFT = 53, PAD_RIGHT = 5;

const toXY = arr => arr.map(p => ({ x: p[0], y: p[1] }));

// frame with inward ticks, y labels, and the statistics text block
const framePlugin = {
  id: 'frame',
  afterDraw(chart, args, opts) {
    const { ctx, chartArea: a, scales: { x, y } } = chart;
    const i = opts.index;
    ctx.save();
    ctx.strokeStyle = AXIS;
    ctx.lineWidth = 1.6;
    ctx.beginPath();
    const yLenMajor = 17, yLenMinor = 8.5, xLen = 4;
    yTickValues.forEach((v, k) => {
      const py = y.getPixelForValue(v);
      ctx.moveTo(a.left, py); ctx.lineTo(a.left + yLenMajor, py);
      ctx.moveTo(a.right, py); ctx.lineTo(a.right - yLenMajor, py);
      if (k < yTickValues.length - 1) {
        const pm = y.getPixelForValue((v + yTickValues[k + 1]) / 2);
        ctx.moveTo(a.left, pm); ctx.lineTo(a.left + yLenMinor, pm);
        ctx.moveTo(a.right, pm); ctx.lineTo(a.right - yLenMinor, pm);
      }
    });
    yearTicks.forEach(v => {
      const px = x.getPixelForValue(v);
      ctx.moveTo(px, a.bottom); ctx.lineTo(px, a.bottom - xLen);
      ctx.moveTo(px, a.top); ctx.lineTo(px, a.top + xLen);
    });
    ctx.stroke();
    ctx.strokeRect(a.left, a.top, a.right - a.left, a.bottom - a.top);

    // y tick labels
    ctx.fillStyle = '#000';
    ctx.font = '15px ' + FONT;
    ctx.textAlign = 'right';
    ctx.textBaseline = 'middle';
    ctx.letterSpacing = '1.5px';
    yTickValues.forEach((v, k) => {
      let py = y.getPixelForValue(v);
      if (k === yTickValues.length - 1) py += 5;
      if (k === 0) py -= 4;
      ctx.fillText(yTickLabels[k], a.left - 3, py);
    });
    ctx.letterSpacing = '0px';

    // statistics block
    const r1 = y.getPixelForValue(0.951), r2 = y.getPixelForValue(0.930), r3 = y.getPixelForValue(0.910);
    const L = a.left;
    ctx.textAlign = 'left';
    ctx.fillStyle = '#000';
    ctx.fillText(bandNames[i], L + 14, r2);
    ctx.fillStyle = RED;
    ctx.fillText('Terra', L + 92, r1);
    ctx.fillText('%/Degrade', L + 92, r2);
    ctx.fillText('%STDerr', L + 92, r3);
    ctx.fillText(terraStdErr[i], L + 180, r3);
    ctx.textAlign = 'right';
    ctx.fillText(terraDegrade[i], L + 227, r2);
    ctx.fillStyle = '#000';
    ctx.textAlign = 'left';
    ctx.fillText('Aqua', L + 260, r1);
    ctx.fillText('%/Degrade', L + 260, r2);
    ctx.fillText('%STDerr', L + 260, r3);
    ctx.fillText(aquaStdErr[i], L + 347, r3);
    ctx.textAlign = 'right';
    ctx.fillText(aquaDegrade[i], L + 394, r2);
    ctx.restore();
  }
};

function makePanel(i) {
  const p = panels[i];
  const canvas = document.getElementById('c' + i);
  const h = (p.bottom - p.top) + PAD_TOP + AXIS_H;
  canvas.width = CANVAS_W;
  canvas.height = h;
  canvas.style.width = CANVAS_W + 'px';
  canvas.style.height = h + 'px';
  canvas.style.top = (p.top - PAD_TOP) + 'px';

  new Chart(canvas, {
    type: 'scatter',
    data: {
      datasets: [
        { label: 'Terra fit', data: toXY(terraTrends[i]), showLine: true, borderColor: RED, borderWidth: 1.5, pointRadius: 0, fill: false },
        { label: 'Aqua fit', data: toXY(aquaTrends[i]), showLine: true, borderColor: '#000', borderWidth: 1.5, pointRadius: 0, fill: false },
        { label: 'Terra', data: toXY(terraSeries[i]), pointStyle: 'rect', pointRadius: 6, borderColor: RED, borderWidth: 1.4, backgroundColor: 'rgba(0,0,0,0)' },
        { label: 'Aqua', data: toXY(aquaSeries[i]), pointStyle: 'star', pointRadius: 4.5, borderColor: '#000', borderWidth: 1.4, backgroundColor: 'rgba(0,0,0,0)' }
      ]
    },
    options: {
      responsive: false,
      animation: false,
      events: [],
      layout: { padding: { top: PAD_TOP, right: PAD_RIGHT, left: 0, bottom: 0 } },
      plugins: { legend: { display: false }, tooltip: { enabled: false }, frame: { index: i } },
      scales: {
        x: {
          type: 'linear', position: 'bottom', min: 2000, max: 2013.4,
          grid: { display: false, drawTicks: false }, border: { display: false },
          afterBuildTicks: s => { s.ticks = yearTicks.map(v => ({ value: v })); },
          afterFit: s => { s.height = AXIS_H; s.paddingLeft = 0; s.paddingRight = 0; },
          ticks: { color: '#000', font: { family: FONT, size: 15 }, padding: 11, maxRotation: 0, autoSkip: false,
                   callback: v => String(v) },
          title: { display: true, text: xAxisTitle, color: '#000', font: { family: FONT, size: 15 }, padding: { top: 0, bottom: 1 } }
        },
        y: {
          type: 'linear', position: 'left', min: 0.90, max: 1.10,
          grid: { display: false, drawTicks: false }, border: { display: false },
          afterBuildTicks: s => { s.ticks = yTickValues.map(v => ({ value: v })); },
          afterFit: s => { s.width = PLOT_LEFT; s.paddingTop = 0; s.paddingBottom = 0; },
          ticks: { display: false }
        }
      }
    },
    plugins: [framePlugin]
  });
}

[0, 1, 2, 3].forEach(makePanel);
</script>
</body>
</html>
